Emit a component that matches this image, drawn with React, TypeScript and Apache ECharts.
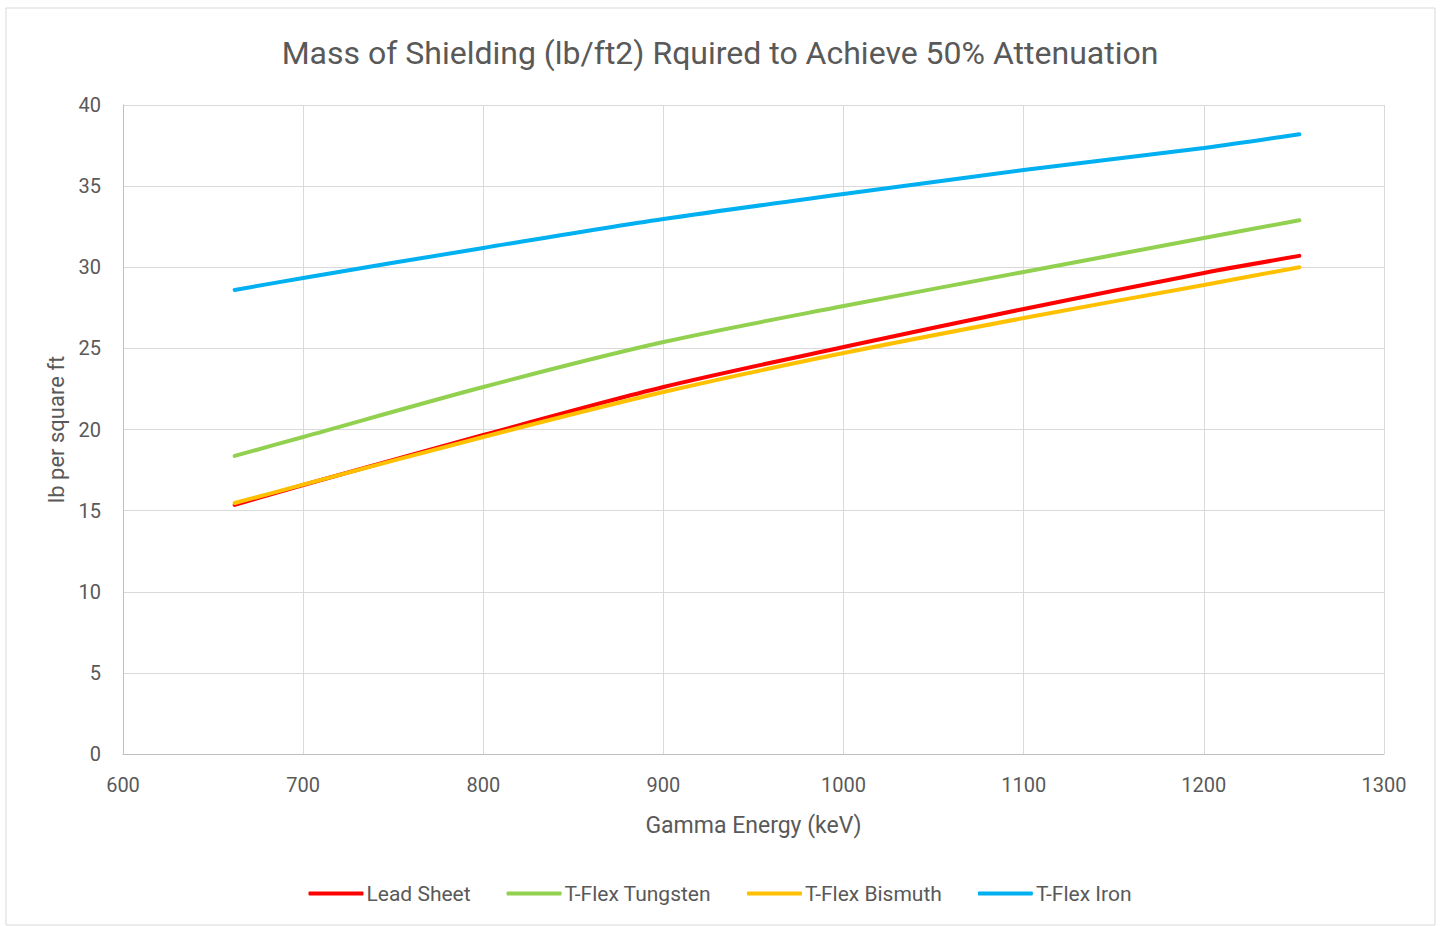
import React, { useEffect, useRef } from "react";
import * as echarts from "echarts";

const energies = [662, 700, 800, 900, 1000, 1100, 1200, 1253];
const leadSheet = [15.35, 16.58, 19.66, 22.62, 25.08, 27.43, 29.65, 30.7];
const tflexTungsten = [18.37, 19.54, 22.62, 25.39, 27.61, 29.71, 31.8, 32.9];
const tflexBismuth = [15.47, 16.6, 19.54, 22.31, 24.71, 26.87, 28.91, 30.0];
const tflexIron = [28.6, 29.34, 31.19, 32.97, 34.51, 35.99, 37.35, 38.2];

const seriesNames = ["Lead Sheet", "T-Flex Tungsten", "T-Flex Bismuth", "T-Flex Iron"];
const seriesColors = ["#FF0000", "#92D050", "#FFC000", "#00B0F0"];
const seriesData = [leadSheet, tflexTungsten, tflexBismuth, tflexIron];

const FONT = "'Liberation Sans Narrow', 'Arial Narrow', 'Roboto', sans-serif";
const TEXT = "#595959";

export default function App() {
  const ref = useRef<HTMLDivElement>(null);
  useEffect(() => {
    if (!ref.current) return;
    const chart = echarts.init(ref.current, undefined, { renderer: "svg" });
    chart.setOption({
      animation: false,
      backgroundColor: "#ffffff",
      textStyle: { fontFamily: FONT },
      graphic: [
        {
          type: "rect",
          shape: { x: 6, y: 8, width: 1429, height: 917 },
          style: { fill: "none", stroke: "#d9d9d9", lineWidth: 1 },
          silent: true,
        },
      ],
      title: {
        text: "Mass of Shielding (lb/ft2) Rquired to Achieve 50% Attenuation",
        left: "center",
        top: 32,
        textStyle: { fontFamily: FONT, fontSize: 32, fontWeight: "normal", color: TEXT },
      },
      legend: {
        bottom: 17,
        left: "center",
        itemWidth: 55,
        itemHeight: 4,
        itemGap: 36,
        icon: "roundRect",
        textStyle: { fontFamily: FONT, fontSize: 21, color: TEXT, padding: [0, 0, 0, -2] },
        data: seriesNames,
      },
      grid: { left: 123, right: 56, top: 105, bottom: 172 },
      xAxis: {
        type: "value",
        min: 600,
        max: 1300,
        interval: 100,
        name: "Gamma Energy (keV)",
        nameLocation: "middle",
        nameGap: 60,
        nameTextStyle: { fontFamily: FONT, fontSize: 23, color: TEXT },
        axisLine: { show: true, lineStyle: { color: "#bfbfbf", width: 1 } },
        axisTick: { show: false },
        axisLabel: {
          fontFamily: FONT,
          fontSize: 20,
          color: TEXT,
          margin: 21,
          formatter: (v: number) => String(v),
        },
        splitLine: { show: true, lineStyle: { color: "#d9d9d9", width: 1 } },
      },
      yAxis: {
        type: "value",
        min: 0,
        max: 40,
        interval: 5,
        name: "lb per square ft",
        nameLocation: "middle",
        nameGap: 56,
        nameTextStyle: { fontFamily: FONT, fontSize: 22, color: TEXT },
        axisLine: { show: true, lineStyle: { color: "#bfbfbf", width: 1 } },
        axisTick: { show: false },
        axisLabel: { fontFamily: FONT, fontSize: 20, color: TEXT, margin: 22 },
        splitLine: { show: true, lineStyle: { color: "#d9d9d9", width: 1 } },
      },
      series: seriesNames.map((name, i) => ({
        name,
        type: "line",
        smooth: 0.3,
        showSymbol: false,
        symbol: "none",
        color: seriesColors[i],
        lineStyle: { color: seriesColors[i], width: 4, cap: "round" },
        data: energies.map((e, j) => [e, seriesData[i][j]]),
        z: i === 0 ? 1 : 2,
      })),
    });
    return () => chart.dispose();
  }, []);
  return (
    <div
      ref={ref}
      style={{ position: "absolute", left: 0, top: 0, width: 1440, height: 926 }}
    />
  );
}
